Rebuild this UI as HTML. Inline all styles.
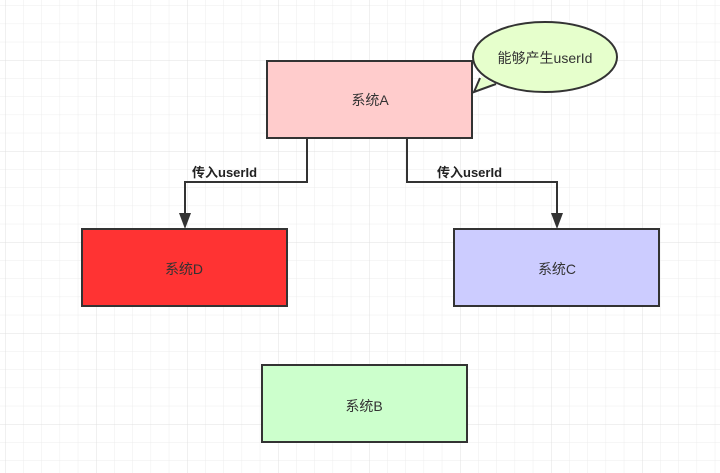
<!DOCTYPE html>
<html><head><meta charset="utf-8"><style>
html,body{margin:0;padding:0;background:#fff;}
svg{display:block;}
text{font-family:"Liberation Sans","Noto Sans CJK SC",sans-serif;}
</style></head><body>
<svg width="720" height="473" viewBox="0 0 720 473" xmlns="http://www.w3.org/2000/svg">
<defs>
<pattern id="g" x="5" y="5.4" width="18.2" height="18.2" patternUnits="userSpaceOnUse">
<path d="M0 0H18.2M0 0V18.2" stroke="#ececec" stroke-width="1" fill="none"/>
</pattern>
<pattern id="G" x="5" y="60" width="91" height="91" patternUnits="userSpaceOnUse">
<path d="M0 0H91M0 0V91" stroke="#e0e0e0" stroke-width="1" fill="none"/>
</pattern>
</defs>
<rect width="720" height="473" fill="#fff"/>
<rect width="720" height="473" fill="url(#g)"/>
<rect width="720" height="473" fill="url(#G)"/>

<g stroke="#333" stroke-width="2" fill="none">
<path d="M307 138V182H185V218"/>
<path d="M407 138V182H557V218"/>
</g>
<path d="M179 213L191 213L185 229Z" fill="#333"/>
<path d="M551 213L563 213L557 229Z" fill="#333"/>
<text x="192" y="177" font-size="13" font-weight="bold" fill="#222">传入userId</text>
<text x="437" y="177" font-size="13" font-weight="bold" fill="#222">传入userId</text>

<rect x="267" y="61" width="205" height="77" fill="#ffcccc" stroke="#333" stroke-width="2"/>
<text x="370" y="105" font-size="14" fill="#333" text-anchor="middle">系统A</text>

<ellipse cx="545" cy="57" rx="72" ry="35" fill="#e6ffcc" stroke="#333" stroke-width="2"/>
<path d="M480 78 L474 92 L496 84" fill="#e6ffcc" stroke="#333" stroke-width="2" stroke-linejoin="miter"/>
<path d="M481 76 L482 84 L494 84 Z" fill="#e6ffcc"/>
<text x="545" y="63" font-size="14" fill="#333" text-anchor="middle">能够产生userId</text>

<rect x="82" y="229" width="205" height="77" fill="#ff3333" stroke="#333" stroke-width="2"/>
<text x="184" y="274" font-size="14" fill="#333" text-anchor="middle">系统D</text>

<rect x="454" y="229" width="205" height="77" fill="#ccccff" stroke="#333" stroke-width="2"/>
<text x="557" y="274" font-size="14" fill="#333" text-anchor="middle">系统C</text>

<rect x="262" y="365" width="205" height="77" fill="#ccffcc" stroke="#333" stroke-width="2"/>
<text x="364" y="411" font-size="14" fill="#333" text-anchor="middle">系统B</text>
</svg>
</body></html>
